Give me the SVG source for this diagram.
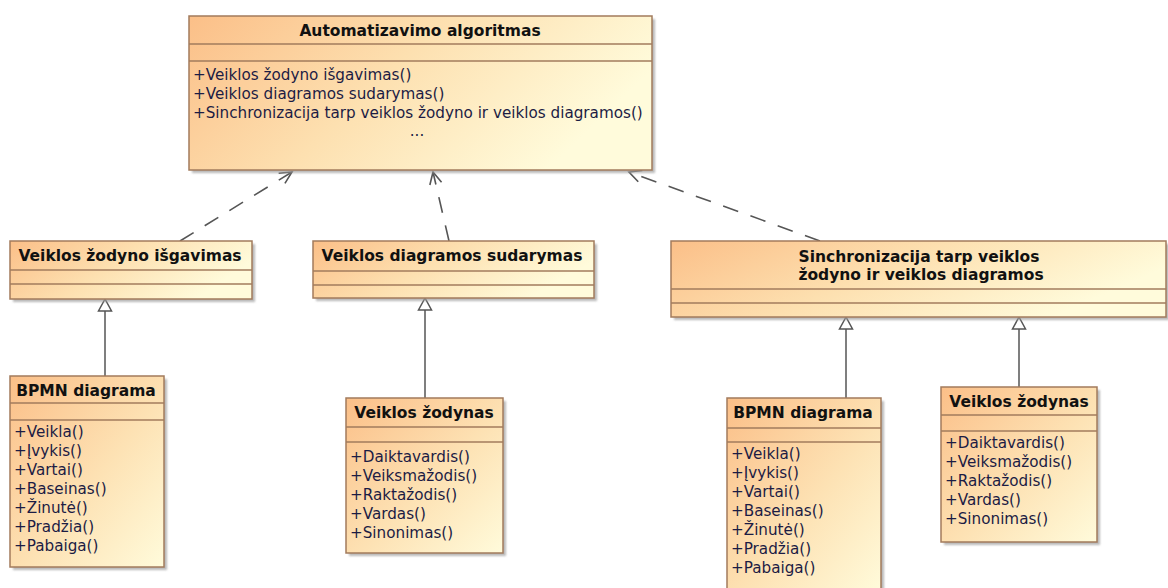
<svg xmlns="http://www.w3.org/2000/svg" width="1168" height="588" viewBox="0 0 1168 588">
  <defs>
    <!-- wide class boxes: mostly left-to-right shading -->
    <linearGradient id="wideFill" x1="0" y1="0" x2="1" y2="0.35">
      <stop offset="0" stop-color="#fbbf88"/>
      <stop offset="0.5" stop-color="#fde0b0"/>
      <stop offset="1" stop-color="#fffbdb"/>
    </linearGradient>
    <!-- tall class boxes: corner-to-corner shading -->
    <linearGradient id="tallFill" x1="0" y1="0" x2="1" y2="1">
      <stop offset="0" stop-color="#fbbf88"/>
      <stop offset="0.55" stop-color="#fde2b4"/>
      <stop offset="1" stop-color="#fffbdb"/>
    </linearGradient>
    <filter id="soft" x="-5%" y="-5%" width="110%" height="110%">
      <feGaussianBlur stdDeviation="1.2"/>
    </filter>
    <marker id="openArrow" markerUnits="userSpaceOnUse" markerWidth="16" markerHeight="16" viewBox="-14 -8 16 16" refX="0" refY="0" orient="auto">
      <path d="M-12,-6 L0,0 L-12,6" fill="none" stroke="#555" stroke-width="1.6"/>
    </marker>
  </defs>
  <style>
    .shadow { fill: #9c9c9c; opacity: 0.7; filter: url(#soft); }
    .box { fill: url(#wideFill); stroke: #a27b5c; stroke-width: 1.5; }
    .box.tall { fill: url(#tallFill); }
    .sep { stroke: #a27b5c; stroke-width: 1.5; }
    .title { font-family: "DejaVu Sans", "Liberation Sans", sans-serif; font-weight: bold; font-size: 15.5px; fill: #111; text-anchor: middle; }
    .op { font-family: "DejaVu Sans", "Liberation Sans", sans-serif; font-size: 15.2px; fill: #1c1c44; }
    .dep { fill: none; stroke: #555; stroke-width: 1.6; stroke-dasharray: 16 13; marker-end: url(#openArrow); }
    .gen { fill: none; stroke: #555; stroke-width: 1.5; }
    .tri { fill: #fff; stroke: #555; stroke-width: 1.5; }
  </style>

  <rect width="1168" height="588" fill="#fff"/>

  <!-- dependency and generalization links -->
  <g id="connectors">
    <line class="dep" x1="180" y1="241" x2="292" y2="172"/>
    <line class="dep" x1="449" y1="241" x2="433" y2="172"/>
    <line class="dep" x1="820" y1="241" x2="629" y2="172"/>

    <line class="gen" x1="105" y1="311" x2="105" y2="376"/>
    <polygon class="tri" points="105,299 98.5,311 111.5,311"/>
    <line class="gen" x1="425" y1="310" x2="425" y2="398"/>
    <polygon class="tri" points="425,298 418.5,310 431.5,310"/>
    <line class="gen" x1="846" y1="329" x2="846" y2="398"/>
    <polygon class="tri" points="846,317 839.5,329 852.5,329"/>
    <line class="gen" x1="1019" y1="329" x2="1019" y2="387"/>
    <polygon class="tri" points="1019,317 1012.5,329 1025.5,329"/>
  </g>

  <!-- Automatizavimo algoritmas -->
  <g id="automatizavimo-algoritmas">
    <rect class="shadow" x="192" y="19" width="463" height="154"/>
    <rect class="box" x="189" y="16" width="463" height="154"/>
    <line class="sep" x1="189" y1="44" x2="652" y2="44"/>
    <line class="sep" x1="189" y1="61" x2="652" y2="61"/>
    <text class="title" x="420" y="36">Automatizavimo algoritmas</text>
    <text class="op" x="193" y="80">+Veiklos žodyno išgavimas()</text>
    <text class="op" x="193" y="99">+Veiklos diagramos sudarymas()</text>
    <text class="op" x="193" y="117.5">+Sinchronizacija tarp veiklos žodyno ir veiklos diagramos()</text>
    <text class="op" x="417" y="136" text-anchor="middle">...</text>
  </g>

  <!-- Veiklos žodyno išgavimas -->
  <g id="zodyno-isgavimas">
    <rect class="shadow" x="13" y="244" width="242" height="58"/>
    <rect class="box" x="10" y="241" width="242" height="58"/>
    <line class="sep" x1="10" y1="270" x2="252" y2="270"/>
    <line class="sep" x1="10" y1="284" x2="252" y2="284"/>
    <text class="title" x="130" y="261">Veiklos žodyno išgavimas</text>
  </g>

  <!-- Veiklos diagramos sudarymas -->
  <g id="diagramos-sudarymas">
    <rect class="shadow" x="316" y="244" width="281" height="57"/>
    <rect class="box" x="313" y="241" width="281" height="57"/>
    <line class="sep" x1="313" y1="271" x2="594" y2="271"/>
    <line class="sep" x1="313" y1="285" x2="594" y2="285"/>
    <text class="title" x="452" y="261">Veiklos diagramos sudarymas</text>
  </g>

  <!-- Sinchronizacija tarp veiklos žodyno ir veiklos diagramos -->
  <g id="sinchronizacija">
    <rect class="shadow" x="674" y="244" width="495" height="76"/>
    <rect class="box" x="671" y="241" width="495" height="76"/>
    <line class="sep" x1="671" y1="289" x2="1166" y2="289"/>
    <line class="sep" x1="671" y1="303" x2="1166" y2="303"/>
    <text class="title" x="919" y="262">Sinchronizacija tarp veiklos</text>
    <text class="title" x="921" y="280">žodyno ir veiklos diagramos</text>
  </g>

  <!-- BPMN diagrama (left) -->
  <g id="bpmn-diagrama-1">
    <rect class="shadow" x="13" y="379" width="154" height="191"/>
    <rect class="box tall" x="10" y="376" width="154" height="191"/>
    <line class="sep" x1="10" y1="403" x2="164" y2="403"/>
    <line class="sep" x1="10" y1="420" x2="164" y2="420"/>
    <text class="title" x="86" y="396">BPMN diagrama</text>
    <text class="op" x="14" y="437">+Veikla()</text>
    <text class="op" x="14" y="456">+Įvykis()</text>
    <text class="op" x="14" y="475">+Vartai()</text>
    <text class="op" x="14" y="494">+Baseinas()</text>
    <text class="op" x="14" y="513">+Žinutė()</text>
    <text class="op" x="14" y="532">+Pradžia()</text>
    <text class="op" x="14" y="551">+Pabaiga()</text>
  </g>

  <!-- Veiklos žodynas (middle) -->
  <g id="veiklos-zodynas-1">
    <rect class="shadow" x="349" y="401" width="157" height="155"/>
    <rect class="box tall" x="346" y="398" width="157" height="155"/>
    <line class="sep" x1="346" y1="427" x2="503" y2="427"/>
    <line class="sep" x1="346" y1="442" x2="503" y2="442"/>
    <text class="title" x="424" y="418">Veiklos žodynas</text>
    <text class="op" x="350" y="462">+Daiktavardis()</text>
    <text class="op" x="350" y="481">+Veiksmažodis()</text>
    <text class="op" x="350" y="500">+Raktažodis()</text>
    <text class="op" x="350" y="519">+Vardas()</text>
    <text class="op" x="350" y="538">+Sinonimas()</text>
  </g>

  <!-- BPMN diagrama (right) -->
  <g id="bpmn-diagrama-2">
    <rect class="shadow" x="730" y="401" width="154" height="195"/>
    <rect class="box tall" x="727" y="398" width="154" height="195"/>
    <line class="sep" x1="727" y1="428" x2="881" y2="428"/>
    <line class="sep" x1="727" y1="442" x2="881" y2="442"/>
    <text class="title" x="803" y="418">BPMN diagrama</text>
    <text class="op" x="731" y="459">+Veikla()</text>
    <text class="op" x="731" y="478">+Įvykis()</text>
    <text class="op" x="731" y="497">+Vartai()</text>
    <text class="op" x="731" y="516">+Baseinas()</text>
    <text class="op" x="731" y="535">+Žinutė()</text>
    <text class="op" x="731" y="554">+Pradžia()</text>
    <text class="op" x="731" y="573">+Pabaiga()</text>
  </g>

  <!-- Veiklos žodynas (right) -->
  <g id="veiklos-zodynas-2">
    <rect class="shadow" x="944" y="390" width="156" height="155"/>
    <rect class="box tall" x="941" y="387" width="156" height="155"/>
    <line class="sep" x1="941" y1="415" x2="1097" y2="415"/>
    <line class="sep" x1="941" y1="431" x2="1097" y2="431"/>
    <text class="title" x="1019" y="407">Veiklos žodynas</text>
    <text class="op" x="945" y="448">+Daiktavardis()</text>
    <text class="op" x="945" y="467">+Veiksmažodis()</text>
    <text class="op" x="945" y="486">+Raktažodis()</text>
    <text class="op" x="945" y="505">+Vardas()</text>
    <text class="op" x="945" y="524">+Sinonimas()</text>
  </g>
</svg>
